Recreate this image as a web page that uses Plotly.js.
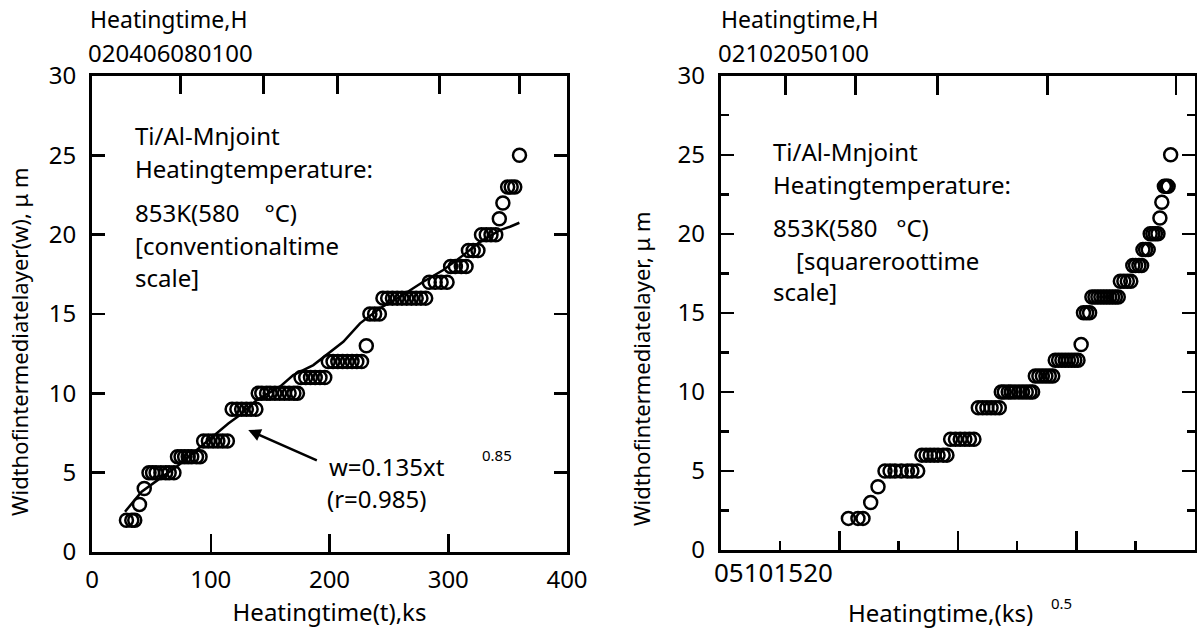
<!DOCTYPE html>
<html>
<head>
<meta charset="utf-8">
<script src="https://cdn.plot.ly/plotly-3.0.1.min.js"></script>
<style>html,body{margin:0;padding:0;background:#fff;}#chart{width:1197px;height:640px;}</style>
</head>
<body>
<div id="chart"></div>
<script>
// Heating time (ks) and intermediate layer width (um)
const timeKs = [29, 33.5, 36, 40, 44,
  48, 51, 54, 58, 62, 65, 69,
  72, 75, 78, 81, 84, 88, 91,
  94, 98, 102, 106, 110, 114,
  118, 122, 126, 130, 134, 138,
  140, 143, 147, 150, 154, 158, 162, 166, 170, 173,
  176, 180, 184, 188, 192, 196,
  199, 203, 207, 211, 215, 219, 223, 227,
  231,
  234, 238, 242,
  245, 249, 253, 257, 261, 265, 269, 273, 277, 281,
  284, 289, 294, 299,
  302, 306, 311, 315,
  317, 321, 325,
  328, 332, 336, 340,
  343, 346,
  350, 353, 356,
  360];
const widthUm = [2, 2, 2, 3, 4,
  5, 5, 5, 5, 5, 5, 5,
  6, 6, 6, 6, 6, 6, 6,
  7, 7, 7, 7, 7, 7,
  9, 9, 9, 9, 9, 9,
  10, 10, 10, 10, 10, 10, 10, 10, 10, 10,
  11, 11, 11, 11, 11, 11,
  12, 12, 12, 12, 12, 12, 12, 12,
  13,
  15, 15, 15,
  16, 16, 16, 16, 16, 16, 16, 16, 16, 16,
  17, 17, 17, 17,
  18, 18, 18, 18,
  19, 19, 19,
  20, 20, 20, 20,
  21, 22,
  23, 23, 23,
  25];

// Fitted curve (w = 0.135 t^0.85) as drawn
const fitTimeKs = [27.8, 41.8, 57.3, 71.3, 88.2, 106.4, 110.6, 114.8, 124.6, 138.7, 158.3, 169.5, 186.4, 197.6, 211.6, 225.7, 242.5, 259.4, 279, 295.8, 312.7, 326.7, 343.6, 352, 359.9];
const fitWidthUm = [2.54, 3.8, 4.64, 5.38, 6.43, 7.58, 7.79, 8.1, 8.63, 9.58, 10.42, 11.15, 11.78, 12.41, 13.25, 14.41, 15.36, 16.09, 17.03, 17.77, 18.71, 19.55, 20.29, 20.5, 20.75];

// Top "Heating time, H" tick positions (in each panel's bottom-axis units)
const leftTopTicksKs = [74.7, 144.3, 206.6, 292.5, 359.9];
const rightTopTicksRoot = [2.74, 5.68, 9.15, 13.78, 19.2];
const leftTopLabel = "020406080100";
const rightTopLabel = "02102050100";
const rightBottomLabel = "05101520";
const leftXTicks = [0, 100, 200, 300, 400];

const rootTime = timeKs.map(Math.sqrt);

const FONT = "Noto Sans, Open Sans, sans-serif";
const FS = 24;

const markerStyle = {symbol: 'circle-open', size: 13, color: '#000', line: {width: 2.5, color: '#000'}};

const traces = [
  {x: timeKs, y: widthUm, xaxis: 'x', yaxis: 'y', mode: 'markers', type: 'scatter',
   marker: markerStyle, showlegend: false},
  {x: fitTimeKs, y: fitWidthUm, xaxis: 'x', yaxis: 'y', mode: 'lines', type: 'scatter',
   line: {color: '#000', width: 2.5}, showlegend: false},
  {x: rootTime, y: widthUm, xaxis: 'x2', yaxis: 'y2', mode: 'markers', type: 'scatter',
   marker: markerStyle, showlegend: false},
  {x: [], y: [], xaxis: 'x3', yaxis: 'y', type: 'scatter', showlegend: false},
  {x: [], y: [], xaxis: 'x4', yaxis: 'y2', type: 'scatter', showlegend: false}
];

const W = 1197, H = 640;
const px = v => v / W;
const py = v => 1 - v / H;

const axisCommon = {showgrid: false, zeroline: false, showline: true, linecolor: '#000', linewidth: 3,
  ticks: 'inside', tickcolor: '#000', tickwidth: 2.5, tickfont: {family: FONT, size: FS, color: '#000'}, automargin: false};

const layout = {
  width: W, height: H,
  margin: {l: 0, r: 0, t: 0, b: 0},
  paper_bgcolor: '#fff', plot_bgcolor: '#fff',
  font: {family: FONT, size: FS, color: '#000'},
  showlegend: false,
  xaxis: Object.assign({}, axisCommon, {domain: [px(92), px(567)], anchor: 'y', range: [0, 400],
    tickvals: leftXTicks, ticklen: 18, mirror: true, ticklabelstandoff: 4,
    title: {text: 'Heatingtime(t),ks', font: {family: FONT, size: FS}, standoff: 6}}),
  yaxis: Object.assign({}, axisCommon, {domain: [py(552), py(76)], anchor: 'x', range: [0, 30],
    dtick: 5, ticklen: 13, mirror: 'ticks', ticklabelstandoff: 8}),
  xaxis3: {overlaying: 'x', anchor: 'y', side: 'top', range: [0, 400], tickvals: leftTopTicksKs,
    ticks: 'inside', ticklen: 18, tickwidth: 2.5, tickcolor: '#000', showticklabels: false,
    showline: false, showgrid: false, zeroline: false},
  xaxis2: Object.assign({}, axisCommon, {domain: [px(720.7), px(1195)], anchor: 'y2', range: [0, 20],
    dtick: 5, ticklen: 19, mirror: true, showticklabels: false,
    minor: {dtick: 2.5, ticklen: 9, ticks: 'inside', tickwidth: 2.5, tickcolor: '#000', showgrid: false}}),
  yaxis2: Object.assign({}, axisCommon, {domain: [py(550), py(75.7)], anchor: 'x2', range: [0, 30],
    dtick: 5, ticklen: 13, mirror: 'ticks', ticklabelstandoff: 8,
    minor: {dtick: 2.5, ticklen: 8, ticks: 'inside', tickwidth: 2.5, tickcolor: '#000', showgrid: false}}),
  xaxis4: {overlaying: 'x2', anchor: 'y2', side: 'top', range: [0, 20], tickvals: rightTopTicksRoot,
    ticks: 'inside', ticklen: 19, tickwidth: 2.5, tickcolor: '#000', showticklabels: false,
    showline: false, showgrid: false, zeroline: false},
  annotations: []
};

function note(text, x, y, xref, yref, opts) {
  layout.annotations.push(Object.assign({text: text, x: x, y: y, xref: xref, yref: yref,
    showarrow: false, xanchor: 'left', yanchor: 'middle',
    font: {family: FONT, size: FS, color: '#000'}}, opts || {}));
}

// Y axis titles (rotated)
note('Widthofintermediatelayer(w),\u00a0\u03bc\u00a0m', px(19), py(342), 'paper', 'paper',
  {xanchor: 'center', textangle: -90, font: {family: FONT, size: 22, color: '#000'}});
note('Widthofintermediatelayer,\u00a0\u03bc\u00a0m', px(641), py(369), 'paper', 'paper',
  {xanchor: 'center', textangle: -90, font: {family: FONT, size: 22, color: '#000'}});

// Top labels (paper)
note('Heatingtime,H', px(88), py(19), 'paper', 'paper', {font: {family: FONT, size: 23, color: '#000'}});
note(leftTopLabel, px(86), py(53), 'paper', 'paper', {font: {family: FONT, size: 24, color: '#000'}});
note('Heatingtime,H', px(719), py(19), 'paper', 'paper', {font: {family: FONT, size: 23, color: '#000'}});
note(rightTopLabel, px(716), py(53), 'paper', 'paper', {font: {family: FONT, size: 24, color: '#000'}});

// Left panel text block (data coords)
note('Ti/Al-Mnjoint', 34.5, 26.28, 'x', 'y');
note('Heatingtemperature:', 34.5, 24.2, 'x', 'y');
note('853K(580\u00a0\u00a0\u00a0\u00a0\u00b0C)', 34.5, 21.42, 'x', 'y');
note('[conventionaltime', 34.5, 19.34, 'x', 'y');
note('scale]', 34.5, 17.33, 'x', 'y');
note('w=0.135xt', 197.6, 5.37, 'x', 'y');
note('0.85', 341, 6.11, 'x', 'y', {xanchor: 'center', font: {family: FONT, size: 15, color: '#000'}});
note('(r=0.985)', 196.2, 3.40, 'x', 'y');

// Arrow pointing at the fitted curve
layout.annotations.push({x: 131.6, y: 7.69, ax: 190.6, ay: 5.73, xref: 'x', yref: 'y', axref: 'x', ayref: 'y',
  text: '', showarrow: true, arrowhead: 2, arrowsize: 1, arrowwidth: 2.5, arrowcolor: '#000'});

// Right panel text block
note('Ti/Al-Mnjoint', 2.1, 25.19, 'x2', 'y2');
note('Heatingtemperature:', 2.1, 23.15, 'x2', 'y2');
note('853K(580\u00a0\u00a0\u00a0\u00b0C)', 2.1, 20.37, 'x2', 'y2');
note('[squareroottime', 3.1, 18.34, 'x2', 'y2');
note('scale]', 2.1, 16.34, 'x2', 'y2');

// Right panel bottom labels
note(rightBottomLabel, px(712), py(572), 'paper', 'paper', {font: {family: FONT, size: 26, color: '#000'}});
note('Heatingtime,(ks)', px(846), py(612), 'paper', 'paper');
note('0.5', px(1061), py(603), 'paper', 'paper', {xanchor: 'center', font: {family: FONT, size: 15, color: '#000'}});

Plotly.newPlot('chart', traces, layout, {displayModeBar: false, staticPlot: true});
</script>
</body>
</html>
